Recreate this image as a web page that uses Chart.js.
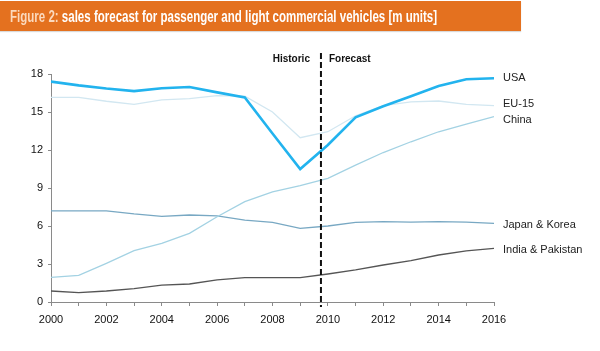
<!DOCTYPE html>
<html>
<head>
<meta charset="utf-8">
<script src="https://cdn.jsdelivr.net/npm/chart.js@4"></script>
<style>
    html, body { margin: 0; padding: 0; background: #fff; }
    #wrap { position: relative; width: 600px; height: 351px; overflow: hidden; }
    #title {
        position: absolute; left: 0; top: 1px; width: 521px; height: 30px;
        background: #e4711f; box-shadow: 0 1px 1px #d9d9d9;
        box-sizing: border-box; padding-left: 10px; overflow: hidden;
    }
    #titleText {
        display: inline-block; white-space: nowrap;
        font-family: "Liberation Sans", Arial, sans-serif;
        font-weight: bold; font-size: 16px; color: #fff;
        line-height: 31px; transform-origin: 0 50%;
    }
    #titleText span { color: #fbd9bd; }
    #chart { position: absolute; left: 0; top: 0; }
</style>
</head>
<body>
<div id="wrap">
    <canvas id="chart" width="600" height="351"></canvas>
    <div id="title"><div id="titleText"><span>Figure 2:</span> sales forecast for passenger and light commercial vehicles [m units]</div></div>
</div>
<script>
// Data (m units)
const years = [2000, 2001, 2002, 2003, 2004, 2005, 2006, 2007, 2008, 2009, 2010, 2011, 2012, 2013, 2014, 2015, 2016];
const usa = [17.4, 17.1, 16.85, 16.65, 16.87, 16.97, 16.55, 16.15, 13.3, 10.5, 12.4, 14.58, 15.45, 16.25, 17.05, 17.58, 17.66];
const eu15 = [16.16, 16.15, 15.85, 15.6, 15.95, 16.05, 16.3, 16.25, 15.0, 12.97, 13.44, 14.7, 15.5, 15.8, 15.87, 15.6, 15.5];
const china = [1.95, 2.1, 3.05, 4.05, 4.63, 5.42, 6.73, 7.92, 8.7, 9.18, 9.76, 10.8, 11.8, 12.65, 13.44, 14.05, 14.63];
const japanKorea = [7.2, 7.2, 7.2, 6.95, 6.76, 6.87, 6.8, 6.47, 6.29, 5.82, 6.0, 6.29, 6.35, 6.3, 6.35, 6.3, 6.21];
const indiaPakistan = [0.87, 0.74, 0.87, 1.05, 1.34, 1.42, 1.74, 1.92, 1.92, 1.92, 2.21, 2.53, 2.92, 3.26, 3.71, 4.03, 4.24];
const seriesNames = ['USA', 'EU-15', 'China', 'Japan & Korea', 'India & Pakistan'];
const yTicks = [0, 3, 6, 9, 12, 15, 18];
const forecastStart = 2009.75;

const toPoints = (vals) => vals.map((v, i) => ({ x: years[i], y: v }));

// squeeze the title into the condensed width of the original
const titleText = document.getElementById('titleText');
titleText.style.transform = 'scaleX(' + (427 / titleText.offsetWidth) + ')';

/**
 * Dashed historic/forecast divider plus its two captions
 */
const dividerPlugin = {
    id: 'divider',
    afterDatasetsDraw(chart) {
        const ctx = chart.ctx;
        const x = chart.scales.x.getPixelForValue(forecastStart);
        ctx.save();
        ctx.strokeStyle = '#111';
        ctx.lineWidth = 2;
        ctx.setLineDash([6, 3]);
        ctx.beginPath();
        ctx.moveTo(x, 53);
        ctx.lineTo(x, 307);
        ctx.stroke();
        ctx.font = 'bold 10px "Liberation Sans", Arial, sans-serif';
        ctx.fillStyle = '#111';
        ctx.textBaseline = 'middle';
        ctx.textAlign = 'right';
        ctx.fillText('Historic', x - 11, 59);
        ctx.textAlign = 'left';
        ctx.fillText('Forecast', x + 8, 59);
        ctx.restore();
    }
};

/**
 * Series names written next to the last point of each line
 */
const endLabelPlugin = {
    id: 'endLabels',
    afterDatasetsDraw(chart) {
        const ctx = chart.ctx;
        const offsets = [0, -2, 3, 2, 2];
        ctx.save();
        ctx.font = '11px "Liberation Sans", Arial, sans-serif';
        ctx.fillStyle = '#222';
        ctx.textAlign = 'left';
        ctx.textBaseline = 'middle';
        chart.data.datasets.forEach((ds, i) => {
            const last = ds.data[ds.data.length - 1];
            const x = chart.scales.x.getPixelForValue(last.x) + 9;
            const y = chart.scales.y.getPixelForValue(last.y) + offsets[i];
            ctx.fillText(ds.label, x, y);
        });
        ctx.restore();
    }
};

new Chart(document.getElementById('chart'), {
    type: 'line',
    data: {
        datasets: [{
            label: seriesNames[0],
            data: toPoints(usa),
            borderColor: '#22b3ee',
            borderWidth: 2.6
        }, {
            label: seriesNames[1],
            data: toPoints(eu15),
            borderColor: '#d2e7f1',
            borderWidth: 1.3
        }, {
            label: seriesNames[2],
            data: toPoints(china),
            borderColor: '#a3d2e3',
            borderWidth: 1.3
        }, {
            label: seriesNames[3],
            data: toPoints(japanKorea),
            borderColor: '#78a8c3',
            borderWidth: 1.3
        }, {
            label: seriesNames[4],
            data: toPoints(indiaPakistan),
            borderColor: '#555',
            borderWidth: 1.3
        }]
    },
    options: {
        responsive: false,
        animation: false,
        events: [],
        elements: {
            point: { radius: 0 },
            line: { tension: 0 }
        },
        layout: {
            padding: { left: 0, top: 74, right: 106, bottom: 0 }
        },
        plugins: {
            legend: { display: false },
            title: { display: false },
            tooltip: { enabled: false }
        },
        scales: {
            x: {
                type: 'linear',
                min: years[0],
                max: years[years.length - 1],
                afterFit: (scale) => { scale.height = 49; },
                ticks: {
                    stepSize: 1,
                    autoSkip: false,
                    maxRotation: 0,
                    padding: 7,
                    color: '#111',
                    font: { family: '"Liberation Sans", Arial, sans-serif', size: 11 },
                    callback: (v) => (v % 2 === 0 ? String(v) : '')
                },
                grid: {
                    drawOnChartArea: false,
                    drawTicks: true,
                    tickLength: 4,
                    color: '#8a8a8a'
                },
                border: { color: '#8a8a8a', width: 1 }
            },
            y: {
                min: 0,
                max: 18,
                afterFit: (scale) => { scale.width = 51; },
                afterBuildTicks: (scale) => { scale.ticks = yTicks.map(v => ({ value: v })); },
                ticks: {
                    padding: 5,
                    color: '#111',
                    font: { family: '"Liberation Sans", Arial, sans-serif', size: 11 }
                },
                grid: {
                    drawOnChartArea: false,
                    drawTicks: true,
                    tickLength: 3,
                    color: '#8a8a8a'
                },
                border: { color: '#8a8a8a', width: 1 }
            }
        }
    },
    plugins: [dividerPlugin, endLabelPlugin]
});
</script>
</body>
</html>
